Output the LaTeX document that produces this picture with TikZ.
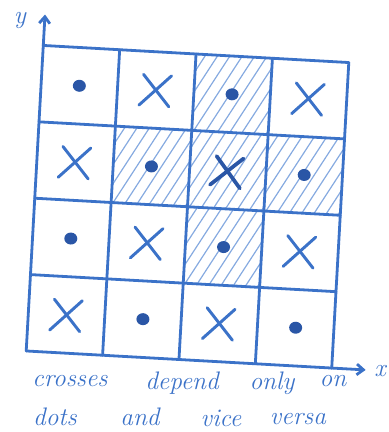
\documentclass[tikz,border=0pt]{standalone}
\usetikzlibrary{arrows.meta,calc}
\definecolor{ink}{HTML}{3B72C8}
\definecolor{inkdark}{HTML}{2A56A6}
\definecolor{hatchc}{HTML}{86AAE0}
\begin{document}
\begin{tikzpicture}[x=0.75pt,y=-0.75pt,
  gridline/.style={ink, line width=2.1pt, line cap=round},
  hatchline/.style={hatchc, line width=0.9pt, line cap=round},
  crossline/.style={ink, line width=2.2pt, line cap=round},
  dotmark/.style={fill=inkdark, draw=none},
  word/.style={text=ink, font=\fontsize{19}{19}\selectfont\itshape, inner sep=0pt}]
\useasboundingbox (0,0) rectangle (389,432);
\begin{scope}[shift={(187.5,206.75)}, rotate=-3.2]
  % hatching
  \foreach \c/\r in {2/0,1/1,2/1,3/1,2/2}{
    \begin{scope}
      \clip (-153+\c*76.5,-153+\r*76.5) rectangle ++(76.5,76.5);
      \foreach \k in {-5,...,7}
        \draw[hatchline] (-153+\c*76.5+\k*12,-153+\r*76.5+80) -- ++(46,-80);
    \end{scope}
  }
  % grid
  \foreach \i in {0,...,4}{
    \draw[gridline] (-153+\i*76.5,-153) -- (-153+\i*76.5,153);
    \draw[gridline] (-153,-153+\i*76.5) -- (153,-153+\i*76.5);
  }
  % axes
  \coordinate (o) at (-153,153);
  \coordinate (ytip) at (-153,-184);
  \coordinate (xtip) at (187,153);
  \draw[gridline,-{Straight Barb[length=5pt,width=8pt]}] (-153,-153) -- (ytip);
  \draw[gridline,-{Straight Barb[length=5pt,width=8pt]}] (153,153) -- (xtip);
  % marks
  \foreach \c/\r/\t in {0/0/d,1/0/x,2/0/d,3/0/x,
                        0/1/x,1/1/d,2/1/X,3/1/d,
                        0/2/d,1/2/x,2/2/d,3/2/x,
                        0/3/x,1/3/d,2/3/x,3/3/d}{
    \coordinate (m\c\r) at (-153+76.5*\c+38.25,-153+76.5*\r+38.25);
    \if\t d
      \fill[dotmark] (m\c\r) ellipse [x radius=6.5, y radius=6];
    \else\if\t x
      \draw[crossline] ($(m\c\r)+(-16,16)$) -- ($(m\c\r)+(15,-15)$);
      \draw[crossline] ($(m\c\r)+(-13,-15)$) -- ($(m\c\r)+(14,16)$);
    \else
      \draw[crossline,inkdark,line width=2.8pt] ($(m\c\r)+(-17,15)$) -- ($(m\c\r)+(15,-13)$);
      \draw[crossline,inkdark,line width=2.8pt] ($(m\c\r)+(-12,-14)$) -- ($(m\c\r)+(13,17)$);
    \fi\fi
  }
\end{scope}
\node[word] (ylab) at (20,20) {y};
\node[word] (xlab) at (380,371) {x};
\node[word] (w1) at (70,381) {crosses};
\node[word] (w2) at (182,383) {depend};
\node[word] (w3) at (272,383) {only};
\node[word] (w4) at (333,381) {on};
\node[word] (w5) at (55,417) {dots};
\node[word] (w6) at (140,417) {and};
\node[word] (w7) at (221,418) {vice};
\node[word] (w8) at (298,419) {versa};
\end{tikzpicture}
\end{document}
